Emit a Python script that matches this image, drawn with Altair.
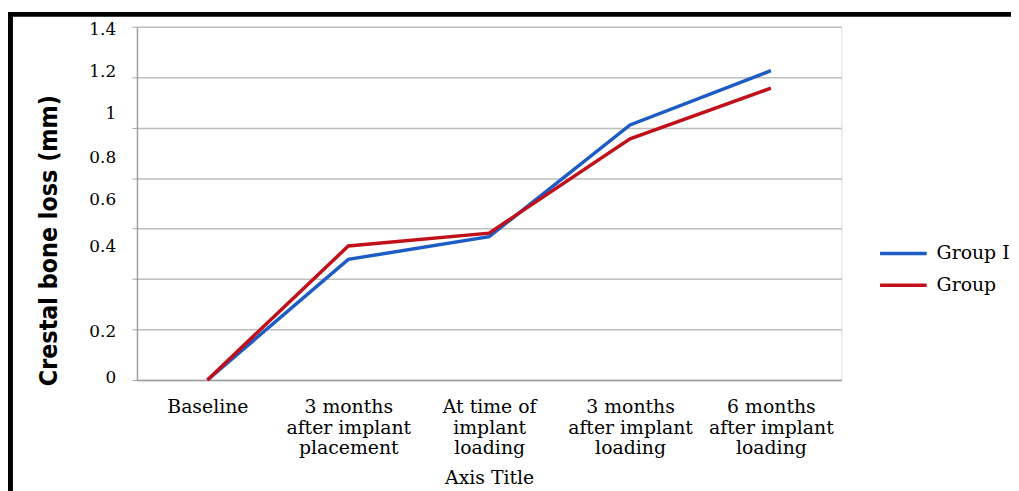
import altair as alt
import pandas as pd

# ---- data ----
categories = [
    "Baseline",
    "3 months\nafter implant\nplacement",
    "At time of\nimplant\nloading",
    "3 months\nafter implant\nloading",
    "6 months\nafter implant\nloading",
]
groups = ["Group I", "Group"]
group1_values = [0.0, 0.478, 0.568, 1.011, 1.226]
group2_values = [0.0, 0.531, 0.582, 0.956, 1.157]

# gridline values and the (misaligned) tick labels printed in the original
grid_values = [0, 0.2, 0.4, 0.6, 0.8, 1.0, 1.2, 1.4]
ytick_text = ["1.4", "1.2", "1", "0.8", "0.6", "0.4", "0.2", "0"]
ytick_pos = [1.388, 1.219, 1.054, 0.881, 0.712, 0.527, 0.189, 0.008]

colors = ["#1c5cc4", "#c0101a"]

rows = []
for g, vals in zip(groups, [group1_values, group2_values]):
    for c, v in zip(categories, vals):
        rows.append({"stage": c, "group": g, "loss": v})
df = pd.DataFrame(rows)
ticks_df = pd.DataFrame({"txt": ytick_text, "pos": ytick_pos})

serif = "DejaVu Serif"
yscale = alt.Scale(domain=[0, 1.4], nice=False, zero=True)

lines = alt.Chart(df).mark_line(strokeWidth=3.5).encode(
    x=alt.X(
        "stage:N",
        sort=categories,
        scale=alt.Scale(type="point", padding=0.5),
        axis=alt.Axis(
            title="Axis Title",
            titleFont=serif,
            titleFontSize=19,
            titleFontWeight="normal",
            titleColor="#000000",
            titleBaseline="alphabetic",
            titleY=104,
            labelExpr="split(datum.label, '\\n')",
            labelFont=serif,
            labelFontSize=19,
            labelColor="#000000",
            labelLineHeight=20.5,
            labelAngle=0,
            labelPadding=18,
            ticks=False,
            domainColor="#a0a0a0",
            domainWidth=1.5,
            grid=False,
        ),
    ),
    y=alt.Y(
        "loss:Q",
        scale=yscale,
        axis=alt.Axis(
            values=grid_values,
            labels=False,
            title="Crestal bone loss (mm)",
            titleFont="Liberation Sans Narrow, DejaVu Sans Condensed, sans-serif",
            titleFontSize=25,
            titleFontWeight="bold",
            titleColor="#000000",
            titleX=-76,
            titleY=215,
            tickSize=5,
            tickColor="#a8a8a8",
            domainColor="#a0a0a0",
            domainWidth=1.5,
            grid=True,
            gridColor="#bdbdbd",
            gridWidth=1.5,
        ),
    ),
    color=alt.Color(
        "group:N",
        scale=alt.Scale(domain=groups, range=colors),
        legend=alt.Legend(
            title=None,
            orient="none",
            legendX=763,
            legendY=219,
            symbolType="M-4,0H4",
            symbolSize=138,
            symbolStrokeWidth=3.5,
            labelOffset=24,
            labelFont=serif,
            labelFontSize=19,
            labelFontWeight="normal",
            labelColor="#000000",
            labelLimit=200,
            rowPadding=12,
        ),
    ),
)

ylabels = alt.Chart(ticks_df).mark_text(
    align="right", baseline="middle", font=serif, fontSize=17, color="#000000"
).encode(
    x=alt.value(-21),
    y=alt.Y("pos:Q", scale=yscale),
    text="txt:N",
)

# frame around the figure (as in the original scan)
frame_left = alt.Chart(alt.Data(values=[{}])).mark_rule(
    color="#000000", strokeWidth=5
).encode(x=alt.value(-127.5), y=alt.value(-15), y2=alt.value(470))
frame_top = alt.Chart(alt.Data(values=[{}])).mark_rule(
    color="#000000", strokeWidth=5
).encode(x=alt.value(-130), x2=alt.value(885), y=alt.value(-12.5))

chart = alt.layer(lines, ylabels, frame_left, frame_top).properties(
    width=710,
    height=356,
    autosize=alt.AutoSizeParams(type="none"),
    padding={"left": 130, "top": 17, "right": 171, "bottom": 110},
).configure_view(strokeWidth=0).configure(background="#ffffff")

chart.save("out.html", embed_options={"renderer": "svg", "actions": False})
